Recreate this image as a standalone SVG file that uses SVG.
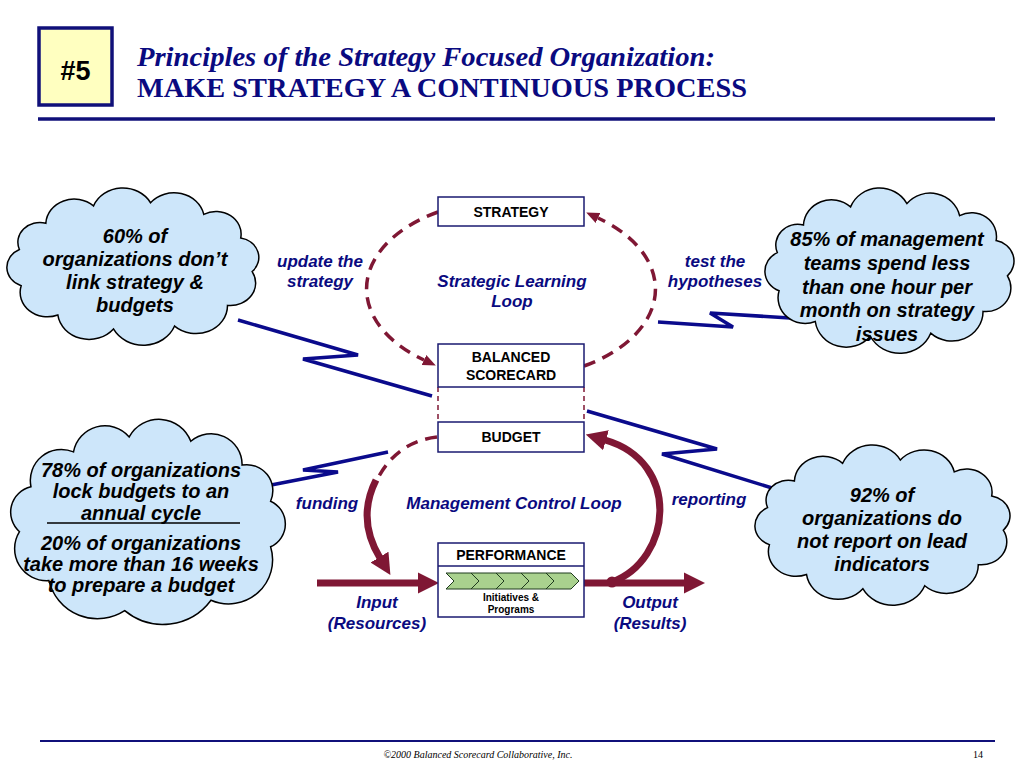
<svg xmlns="http://www.w3.org/2000/svg" xmlns:xlink="http://www.w3.org/1999/xlink" width="1024" height="768" viewBox="0 0 1024 768">
<style>
.box{fill:#fff;stroke:#1a1a70;stroke-width:1.5}
.bt{font-family:"Liberation Sans",Arial,sans-serif;font-weight:bold;font-size:14px;fill:#000;text-anchor:middle}
.lbl{font-family:"Liberation Sans",Arial,sans-serif;font-weight:bold;font-style:italic;font-size:17px;fill:#0a0a80;text-anchor:middle}
.ct{font-family:"Liberation Sans",Arial,sans-serif;font-weight:bold;font-style:italic;font-size:20px;fill:#000;text-anchor:middle}
.cloud{fill:#cde6fa;stroke:#000;stroke-width:1.5}
.bolt{fill:none;stroke:#0a0a8c;stroke-width:3.5;stroke-linejoin:miter}
.dash{fill:none;stroke:#7f1734;stroke-width:3.5;stroke-dasharray:12 8}
.thick{fill:none;stroke:#7f1734;stroke-width:7}
.chev{fill:#a9d18e;stroke:#1e3a1e;stroke-width:1}
</style>
<defs>
<path id="cloud" d="M15.8,62.4 A21,21 0 0 1 41,34.5 A27,27 0 0 1 86.4,16.1 A30,30 0 0 1 140.7,12.7 A29,29 0 0 1 191.4,25 A24,24 0 0 1 226.6,50.2 A21,21 0 0 1 237.5,85.9 A24,24 0 0 1 214,121.9 A30,30 0 0 1 163.6,143.9 A32,32 0 0 1 105.4,147 A30,30 0 0 1 52.4,132.1 A26,26 0 0 1 17.5,101 A21,21 0 0 1 15.8,62.4 Z" vector-effect="non-scaling-stroke"/>
<marker id="ahs" markerUnits="userSpaceOnUse" viewBox="0 -6 13 12" markerWidth="13" markerHeight="12" refX="0" refY="0" orient="auto"><path d="M0,-5.5 L13,0 L0,5.5 Z" fill="#7f1734"/></marker>
<marker id="ahb" markerUnits="userSpaceOnUse" viewBox="0 -11 21 22" markerWidth="21" markerHeight="22" refX="1" refY="0" orient="auto"><path d="M0,-10.5 L21,0 L0,10.5 Z" fill="#7f1734"/></marker>
</defs>
<rect width="1024" height="768" fill="#fff"/>

<g id="header">
<rect x="39" y="28" width="73" height="77" fill="#ffffc0" stroke="#10107a" stroke-width="3.5"/>
<text x="75.5" y="80" font-family="Liberation Sans,Arial,sans-serif" font-weight="bold" font-size="27" text-anchor="middle" fill="#000">#5</text>
<text x="137" y="66" font-family="Liberation Serif,Times New Roman,serif" font-weight="bold" font-style="italic" font-size="28" fill="#0a0a80" textLength="578" lengthAdjust="spacingAndGlyphs">Principles of the Strategy Focused Organization:</text>
<text x="137" y="97" font-family="Liberation Serif,Times New Roman,serif" font-weight="bold" font-size="28" fill="#0a0a80" textLength="610" lengthAdjust="spacingAndGlyphs">MAKE STRATEGY A CONTINUOUS PROCESS</text>
<line x1="38" y1="119" x2="995" y2="119" stroke="#10107a" stroke-width="3.5"/>
</g>

<g id="connectors">
<polyline class="bolt" points="238,320 358,355 303,359 432,396"/>
<polyline class="bolt" points="658,322 733,327 710,313 790,318"/>
<polyline class="bolt" points="266,486 338,472 303,470 388,452"/>
<polyline class="bolt" points="587,411 717,449 662,454 785,492"/>
<path class="dash" d="M438,212 A144,89 0 0 0 424,360" marker-end="url(#ahs)"/>
<path class="dash" d="M584,366 A144,89 0 0 0 598,218" marker-end="url(#ahs)"/>
<line x1="438" y1="387" x2="438" y2="422" stroke="#7f1734" stroke-width="1.5" stroke-dasharray="5 4"/>
<line x1="584" y1="387" x2="584" y2="422" stroke="#7f1734" stroke-width="1.5" stroke-dasharray="5 4"/>
<path class="dash" d="M437,437 C410,440 390,455 378,478"/>
<path class="thick" d="M376,480 C362,508 366,535 380,558" marker-end="url(#ahb)"/>
<path class="thick" d="M612,582 C672,560 682,462 605,440" marker-end="url(#ahb)"/>
<circle cx="612" cy="582" r="5.5" fill="#7f1734"/>
<line class="thick" x1="317" y1="583" x2="419" y2="583" marker-end="url(#ahb)"/>
<line class="thick" x1="584" y1="583" x2="685" y2="583" marker-end="url(#ahb)"/>
</g>

<g id="strategy">
<rect class="box" x="438" y="197" width="146" height="29"/>
<text class="bt" x="511" y="217">STRATEGY</text>
</g>
<g id="balanced-scorecard">
<rect class="box" x="438" y="344" width="146" height="43"/>
<text class="bt" x="511" y="362">BALANCED</text>
<text class="bt" x="511" y="380">SCORECARD</text>
</g>
<g id="budget">
<rect class="box" x="438" y="422" width="146" height="30"/>
<text class="bt" x="511" y="442">BUDGET</text>
</g>
<g id="performance">
<rect class="box" x="438" y="543" width="146" height="74"/>
<line x1="438" y1="566" x2="584" y2="566" stroke="#1a1a70" stroke-width="1.5"/>
<text class="bt" x="511" y="560">PERFORMANCE</text>
<path class="chev" d="M446,573 L471,573 L479,581 L471,589 L446,589 L454,581 Z"/>
<path class="chev" d="M471,573 L496,573 L504,581 L496,589 L471,589 L479,581 Z"/>
<path class="chev" d="M496,573 L521,573 L529,581 L521,589 L496,589 L504,581 Z"/>
<path class="chev" d="M521,573 L546,573 L554,581 L546,589 L521,589 L529,581 Z"/>
<path class="chev" d="M546,573 L571,573 L579,581 L571,589 L546,589 L554,581 Z"/>
<text x="511" y="601" font-family="Liberation Sans,Arial,sans-serif" font-weight="bold" font-size="10" text-anchor="middle" fill="#000">Initiatives &amp;</text>
<text x="511" y="613" font-family="Liberation Sans,Arial,sans-serif" font-weight="bold" font-size="10" text-anchor="middle" fill="#000">Programs</text>
</g>

<g id="labels">
<text class="lbl" x="320" y="267">update the</text>
<text class="lbl" x="320" y="287">strategy</text>
<text class="lbl" x="512" y="287">Strategic Learning</text>
<text class="lbl" x="512" y="307">Loop</text>
<text class="lbl" x="715" y="267">test the</text>
<text class="lbl" x="715" y="287">hypotheses</text>
<text class="lbl" x="327" y="509">funding</text>
<text class="lbl" x="514" y="509">Management Control Loop</text>
<text class="lbl" x="709" y="505">reporting</text>
<text class="lbl" x="377" y="608">Input</text>
<text class="lbl" x="377" y="629">(Resources)</text>
<text class="lbl" x="650" y="608">Output</text>
<text class="lbl" x="650" y="629">(Results)</text>
</g>

<g id="cloud-60">
<use xlink:href="#cloud" class="cloud" transform="translate(2.8,190.8) scale(1.05,0.94)"/>
<text class="ct" x="135" y="243">60% of</text>
<text class="ct" x="135" y="266">organizations don’t</text>
<text class="ct" x="135" y="289">link strategy &amp;</text>
<text class="ct" x="135" y="312">budgets</text>
</g>
<g id="cloud-78">
<path class="cloud" d="M19.5,531.7 A26,26 0 0 1 31,486.8 A31,31 0 0 1 73.5,451.9 A32,32 0 0 1 129.2,436.9 A34,34 0 0 1 190.8,441.3 A31,31 0 0 1 242.1,465.1 A26,26 0 0 1 270.6,501.2 A25,25 0 0 1 270.6,546.8 A44,44 0 0 1 211,600.2 A60,60 0 0 1 124.7,610.7 A50,50 0 0 1 48.9,580.6 A32,32 0 0 1 19.5,531.7 Z"/>
<text class="ct" x="141" y="477">78% of organizations</text>
<text class="ct" x="141" y="498">lock budgets to an</text>
<text class="ct" x="141" y="520">annual cycle</text>
<line x1="47" y1="523" x2="240" y2="523" stroke="#000" stroke-width="1.5"/>
<text class="ct" x="141" y="550">20% of organizations</text>
<text class="ct" x="141" y="571">take more than 16 weeks</text>
<text class="ct" x="141" y="592">to prepare a budget</text>
</g>
<g id="cloud-85">
<use xlink:href="#cloud" class="cloud" transform="translate(760.9,191) scale(1.038,0.988)"/>
<text class="ct" x="887" y="246">85% of management</text>
<text class="ct" x="887" y="270">teams spend less</text>
<text class="ct" x="887" y="294">than one hour per</text>
<text class="ct" x="887" y="317">month on strategy</text>
<text class="ct" x="887" y="341">issues</text>
</g>
<g id="cloud-92">
<use xlink:href="#cloud" class="cloud" transform="translate(750.8,447.9) scale(1.063,0.958)"/>
<text class="ct" x="882" y="502">92% of</text>
<text class="ct" x="882" y="525">organizations do</text>
<text class="ct" x="882" y="548">not report on lead</text>
<text class="ct" x="882" y="571">indicators</text>
</g>

<g id="footer">
<line x1="40" y1="741" x2="995" y2="741" stroke="#10107a" stroke-width="2"/>
<text x="478" y="758" font-family="Liberation Serif,Times New Roman,serif" font-style="italic" font-size="10" text-anchor="middle" fill="#000">©2000 Balanced Scorecard Collaborative, Inc.</text>
<text x="978" y="758" font-family="Liberation Serif,Times New Roman,serif" font-size="10" text-anchor="middle" fill="#000">14</text>
</g>
</svg>
